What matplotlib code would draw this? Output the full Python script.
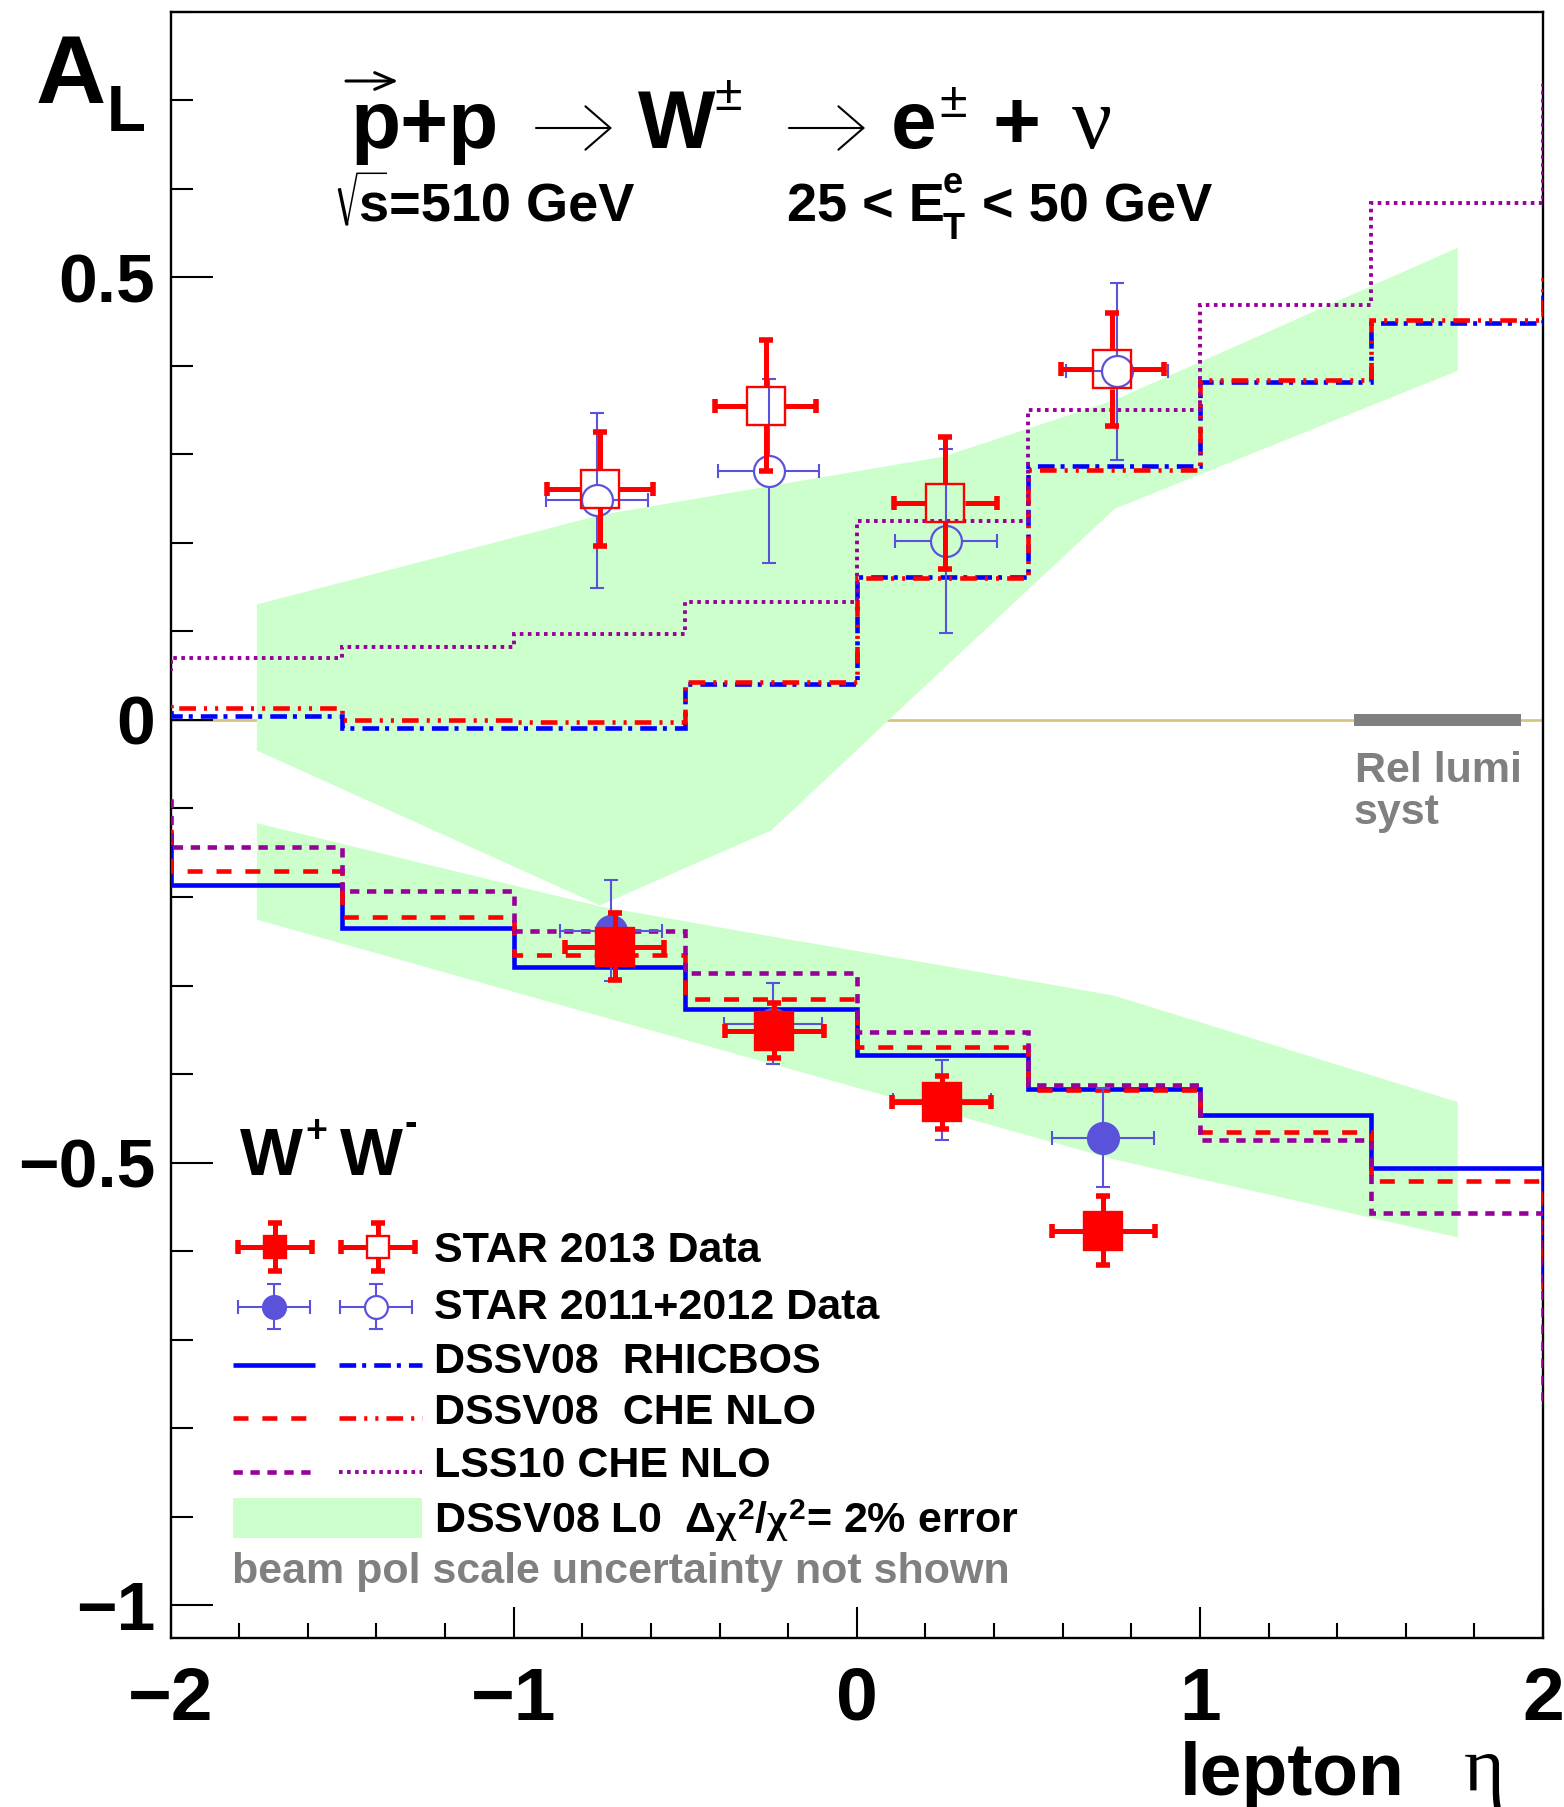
import matplotlib
matplotlib.use("Agg")
import matplotlib.pyplot as plt
from matplotlib.ticker import MultipleLocator
from matplotlib.transforms import Affine2D
from matplotlib.patches import Rectangle

# bin edges, with one extra bin on each side (only its step at +-2 shows)
eta_edges = [-2.5, -2.0, -1.5, -1.0, -0.5, 0.0, 0.5, 1.0, 1.5, 2.0, 2.5]

# theory, W+ (negative A_L)
rhicbos_wp = [-0.130, -0.186, -0.235, -0.279, -0.326, -0.378, -0.417, -0.446, -0.506, -0.625]
che_wp = [-0.122, -0.171, -0.223, -0.266, -0.315, -0.369, -0.418, -0.466, -0.521, -0.640]
lss_wp = [-0.092, -0.144, -0.193, -0.238, -0.286, -0.352, -0.412, -0.475, -0.557, -0.766]

# theory, W- (positive A_L)
rhicbos_wm = [0.012, 0.004, -0.009, -0.009, 0.041, 0.162, 0.287, 0.382, 0.448, 0.483]
che_wm = [0.023, 0.014, 0.000, -0.002, 0.043, 0.160, 0.282, 0.384, 0.452, 0.508]
lss_wm = [0.058, 0.070, 0.082, 0.097, 0.133, 0.225, 0.350, 0.469, 0.584, 0.716]

# DSSV08 LO error bands
band_eta = [-1.75, -0.75, -0.25, 0.25, 0.75, 1.75]
band_wm_hi = [0.131, 0.232, 0.265, 0.298, 0.362, 0.534]
band_wm_lo = [-0.034, -0.209, -0.124, 0.058, 0.239, 0.395]
band_wp_hi = [-0.116, -0.210, -0.244, -0.277, -0.311, -0.431]
band_wp_lo = [-0.225, -0.334, -0.388, -0.442, -0.496, -0.584]

# STAR 2013
s13_wp_eta = [-0.706, -0.240, 0.247, 0.719]
s13_wp_al = [-0.256, -0.351, -0.432, -0.577]
s13_wp_err = [0.038, 0.031, 0.030, 0.039]
s13_wp_xerr = [0.144, 0.145, 0.144, 0.150]
s13_wm_eta = [-0.748, -0.266, 0.258, 0.745]
s13_wm_al = [0.261, 0.355, 0.245, 0.396]
s13_wm_err = [0.064, 0.074, 0.075, 0.064]
s13_wm_xerr = [0.154, 0.147, 0.150, 0.150]

# STAR 2011+2012
s12_wp_eta = [-0.717, -0.245, 0.248, 0.718]
s12_wp_al = [-0.238, -0.343, -0.429, -0.472]
s12_wp_err = [0.057, 0.046, 0.045, 0.056]
s12_wp_xerr = [0.149, 0.143, 0.142, 0.149]
s12_wm_eta = [-0.758, -0.257, 0.259, 0.759]
s12_wm_al = [0.248, 0.281, 0.202, 0.394]
s12_wm_err = [0.099, 0.104, 0.104, 0.100]
s12_wm_xerr = [0.149, 0.148, 0.149, 0.148]

# relative luminosity systematic
lumi_eta = [1.45, 1.935]
lumi_syst = 0.007

xticks = [-2, -1, 0, 1, 2]
xtick_labels = ["\u22122", "\u22121", "0", "1", "2"]
yticks = [-1, -0.5, 0, 0.5]
ytick_labels = ["\u22121", "\u22120.5", "0", "0.5"]

W, H, DPI = 1564, 1807, 100
GREEN = "#ccffcc"
BLUE = "#0000ff"
RED = "#ff0000"
PURPLE = "#990099"
DATABLUE = "#5b52db"
GREY = "#808080"

plt.rcParams["font.family"] = ["Liberation Sans", "DejaVu Sans"]
plt.rcParams["font.weight"] = "bold"
plt.rcParams["lines.scale_dashes"] = False
plt.rcParams["mathtext.fontset"] = "custom"
plt.rcParams["mathtext.rm"] = "Liberation Sans"
plt.rcParams["mathtext.it"] = "Liberation Serif"
plt.rcParams["mathtext.bf"] = "Liberation Sans:bold"

fig = plt.figure(figsize=(W / DPI, H / DPI), dpi=DPI)
AX_L, AX_R, AX_T, AX_B = 170.6, 1543.0, 11.7, 1638.0
ax = fig.add_axes([AX_L / W, 1 - AX_B / H, (AX_R - AX_L) / W, (AX_B - AX_T) / H])
ax.set_xlim(-2, 2)
ax.set_ylim(-1.037, 0.8)

# image pixel coords (origin top-left) -> display
pix = Affine2D().scale(1.0 / W, -1.0 / H).translate(0, 1) + fig.transFigure

ax.set_xticks(xticks, xtick_labels)
ax.set_yticks(yticks, ytick_labels)
ax.xaxis.set_minor_locator(MultipleLocator(0.2))
ax.yaxis.set_minor_locator(MultipleLocator(0.1))
ax.tick_params(which="both", direction="in", top=False, right=False, width=1.5)
ax.tick_params(axis="y", which="major", length=30, labelsize=50, pad=11)
ax.tick_params(axis="y", which="minor", length=16)
ax.tick_params(axis="x", which="major", length=22, labelsize=54, pad=20)
ax.tick_params(axis="x", which="minor", length=11)
for sp in ax.spines.values():
    sp.set_linewidth(1.7)

# bands, zero line, lumi bar
ax.axhline(0, color="#d2c47c", lw=1.9, zorder=0.5)
ax.fill_between(band_eta, band_wm_lo, band_wm_hi, color=GREEN, lw=0, zorder=1)
ax.fill_between(band_eta, band_wp_lo, band_wp_hi, color=GREEN, lw=0, zorder=1)
ax.fill_between(lumi_eta, -lumi_syst, lumi_syst, color=GREY, lw=0, zorder=2)

# curve styles
st_rhic_wp = dict(color=BLUE, ls="-", lw=3.3)
st_che_wp = dict(color=RED, ls=(0, (10.8, 10)), lw=3.3)
st_lss_wp = dict(color=PURPLE, ls=(0, (6.7, 5.5)), lw=3.3)
st_rhic_wm = dict(color=BLUE, ls=(0, (12, 4.3, 2.9, 5.8)), lw=3.3)
st_che_wm = dict(color=RED, ls=(0, (12, 5.8, 2.2, 5.8, 2.2, 5.8)), lw=3.3)
st_lss_wm = dict(color=PURPLE, ls=(0, (2.6, 3.2)), lw=2.8)

for vals, st in [(rhicbos_wp, st_rhic_wp), (che_wp, st_che_wp), (lss_wp, st_lss_wp),
                 (rhicbos_wm, st_rhic_wm), (che_wm, st_che_wm), (lss_wm, st_lss_wm)]:
    ax.stairs(vals, eta_edges, baseline=None, fill=False, zorder=3,
              joinstyle="miter", capstyle="butt", **st)


def draw_point(x, y, xe, ye, trans, st, filled, z):
    """ROOT-like data point: error bars with caps, open markers leave a gap."""
    inv = trans.inverted()
    cx, cy = trans.transform((x, y))
    g = 0.0 if filled else st["ms"] * DPI / 144.0
    gx = abs(inv.transform((cx + g, cy))[0] - x)
    gy = abs(inv.transform((cx, cy + g))[1] - y)
    kw = dict(color=st["color"], transform=trans, zorder=z, clip_on=False)
    for xs, ys in [([x - xe, x - gx], [y, y]), ([x + gx, x + xe], [y, y]),
                   ([x, x], [y - ye, y - gy]), ([x, x], [y + gy, y + ye])]:
        ax.plot(xs, ys, lw=st["lw"], solid_capstyle="butt", **kw)
    ax.plot([x - xe, x + xe], [y, y], ls="none", marker="|", ms=st["cap"], mew=st["capw"], **kw)
    ax.plot([x, x], [y - ye, y + ye], ls="none", marker="_", ms=st["cap"], mew=st["capw"], **kw)
    ax.plot([x], [y], ls="none", marker=st["marker"], ms=st["ms"],
            mfc=st["color"] if filled else "none", mec=st["color"], mew=st["mew"], **kw)


red_st = dict(color=RED, lw=3.6, cap=10.5, capw=4.0, ms=27.7, mew=1.7, marker="s")
blue_st = dict(color=DATABLUE, lw=1.5, cap=10.5, capw=1.5, ms=22.3, mew=1.6, marker="o")

for i in range(4):
    draw_point(s12_wp_eta[i], s12_wp_al[i], s12_wp_xerr[i], s12_wp_err[i], ax.transData, blue_st, True, 5)
    draw_point(s12_wm_eta[i], s12_wm_al[i], s12_wm_xerr[i], s12_wm_err[i], ax.transData, blue_st, False, 5)
for i in range(4):
    draw_point(s13_wp_eta[i], s13_wp_al[i], s13_wp_xerr[i], s13_wp_err[i], ax.transData, red_st, True, 6)
    draw_point(s13_wm_eta[i], s13_wm_al[i], s13_wm_xerr[i], s13_wm_err[i], ax.transData, red_st, False, 6)


def txt(x, y, s, size, **kw):
    return fig.text(x, y, s, transform=pix, fontsize=size, va="baseline", ha="left", **kw)


def arrow(x0, x1, y, lw, ms, hl, hw):
    ax.annotate("", xy=(x1, y), xytext=(x0, y), xycoords=pix, textcoords=pix,
                annotation_clip=False,
                arrowprops=dict(arrowstyle=f"->,head_length={hl},head_width={hw}",
                                lw=lw, color="k", shrinkA=0, shrinkB=0, mutation_scale=ms))


# axis titles
txt(36, 103, "A", 70)
txt(107, 131, "L", 46)
txt(1180, 1795, "lepton", 54)
txt(1464, 1790, "\u03b7", 56, family="Liberation Serif", weight="normal")

# process title
arrow(346, 398, 81, 2.2, 20, 0.7, 0.3)
txt(351, 148, "p+p", 59)
arrow(536, 612, 128, 1.5, 30, 0.6, 0.52)
txt(638, 148, "W", 59)
txt(714, 110, "\u00b1", 36, weight="normal")
arrow(789, 865, 128, 1.5, 30, 0.6, 0.52)
txt(891, 148, "e", 59)
txt(939, 117, "\u00b1", 36, weight="normal")
txt(993, 148, "+", 59)
txt(1072, 148, "\u03bd", 64, family="Liberation Serif", weight="normal")

# sqrt(s) and E_T range
ax.plot([339.3, 347], [188.3, 225], color="k", lw=2.4, transform=pix, clip_on=False,
        solid_capstyle="butt")
ax.plot([347, 357, 386.2], [225, 173.3, 173.3], color="k", lw=1.1, transform=pix, clip_on=False)
txt(358.7, 221.7, "s=510 GeV", 39)
txt(787, 221.7, "25 < E", 39)
txt(943, 193, "e", 26)
txt(943, 239, "T", 26)
txt(982, 221.7, "< 50 GeV", 39)

# Rel lumi label
txt(1355, 781.7, "Rel lumi", 31, color=GREY)
txt(1354, 824, "syst", 31, color=GREY)

# legend
txt(240, 1175, "W", 48)
txt(305, 1142, "+", 27)
txt(340, 1175, "W", 48)
txt(405, 1135, "-", 27)

red_leg = dict(red_st, ms=16.5)
blue_leg = dict(blue_st, ms=16.5)
draw_point(274.5, 1247, 37, 24, pix, red_leg, True, 6)
draw_point(377.5, 1247, 37, 24, pix, red_leg, False, 6)
draw_point(273.5, 1307, 36, 22.5, pix, blue_leg, True, 6)
draw_point(376.0, 1307, 36, 22.5, pix, blue_leg, False, 6)

for y, st_a, st_b in [(1365, st_rhic_wp, st_rhic_wm), (1418, st_che_wp, st_che_wm),
                      (1472, st_lss_wp, st_lss_wm)]:
    ax.plot([232.5, 315], [y, y], transform=pix, clip_on=False, solid_capstyle="butt",
            dash_capstyle="butt", **{k if k != "ls" else "linestyle": v for k, v in st_a.items()})
    ax.plot([339.3, 422.2], [y, y], transform=pix, clip_on=False, solid_capstyle="butt",
            dash_capstyle="butt", **{k if k != "ls" else "linestyle": v for k, v in st_b.items()})
ax.add_patch(Rectangle((232.5, 1498.3), 189.7, 39.4, transform=pix, color=GREEN,
                       lw=0, clip_on=False))

leg_labels = ["STAR 2013 Data", "STAR 2011+2012 Data", "DSSV08  RHICBOS",
              "DSSV08  CHE NLO", "LSS10 CHE NLO",
              r"DSSV08 L0  $\Delta\chi^{2}/\chi^{2}$= 2% error"]
leg_base = [1261.7, 1319.3, 1373.3, 1424, 1477.3, 1532.7]
for lab, yb in zip(leg_labels, leg_base):
    txt(434, yb, lab, 31)
txt(232.5, 1583.3, "beam pol scale uncertainty not shown", 31, color=GREY)

fig.savefig("out.png", dpi=DPI, facecolor="white")
